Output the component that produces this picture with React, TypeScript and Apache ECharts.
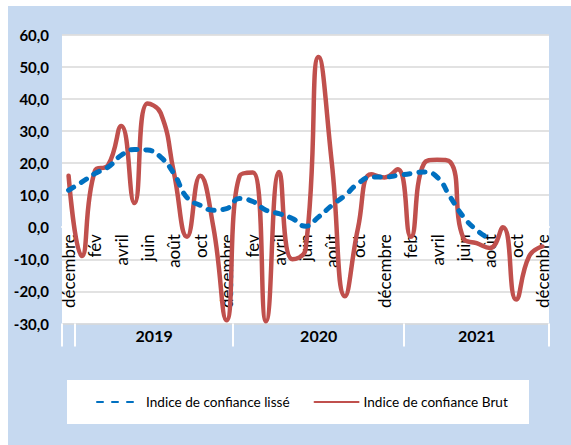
import React, { useEffect, useRef } from "react";
import * as echarts from "echarts";

const months = [
  "décembre", "janvier", "fév", "mars", "avril", "mai", "juin", "juillet", "août", "septembre", "oct", "novembre",
  "décembre", "janvier", "fev", "mars", "avril", "mai", "juin", "juillet", "août", "septembre", "oct", "novembre",
  "décembre", "janvier", "feb", "mars", "avril", "mai", "juin", "juillet", "août", "septembre", "oct", "novembre",
  "décembre",
];

const brut = [
  16, -9, 17.5, 19.3, 31.5, 7.5, 38.5, 35.5, 17, -3, 16, 0,
  -29, 16, 17, -29.3, 17.2, -10, -7, 53, 20, -21.5, 0, 16.5,
  15.5, 18, -3, 19.8, 21, 20.3, -3.5, -5, -6.5, 0, -22.5, -9,
  -6,
];

const lisse = [
  11.5, 14, 16.7, 18.7, 22.4, 24.2, 24, 21.8, 16.7, 9.2, 6.8, 5.3,
  5.8, 8.9, 8, 5.3, 4.2, 2.7, 0.3, 3.2, 6.8, 9.9, 13.6, 15.6,
  15.6, 16.1, 16.7, 17.2, 15.6, 9.4, 3.2, -0.9, -3.7, null, null, null,
  null,
];

const years = ["2019", "2020", "2021"];
const yearCenters = [6.5, 19, 31];
const yearBounds = [-0.5, 0.5, 12.5, 25.5, 36.5];

const yTicks = { min: -30, max: 60, interval: 10 };

const FONT = "Lato, 'Open Sans', sans-serif";

const GRID_TOP = 34.5;
const GRID_BOTTOM_Y = 323.5;

export default function App() {
  const ref = useRef<HTMLDivElement>(null);
  useEffect(() => {
    if (!ref.current) return;
    const chart = echarts.init(ref.current, null, { renderer: "svg" });
    const pxPerUnit = (GRID_BOTTOM_Y - GRID_TOP) / (yTicks.max - yTicks.min);
    const zeroOffset = -(0 - yTicks.min) * pxPerUnit;
    chart.setOption({
      animation: false,
      textStyle: { fontFamily: FONT },
      graphic: [
        {
          type: "rect",
          z: -10,
          shape: { x: 8, y: 6, width: 563, height: 439 },
          style: { fill: "#C6D9F0" },
        },
        {
          type: "rect",
          z: -10,
          shape: { x: 67, y: 380, width: 462, height: 44 },
          style: { fill: "#FFFFFF" },
        },
      ],
      grid: [
        {
          left: 62,
          right: 22,
          top: GRID_TOP,
          bottom: 445 - GRID_BOTTOM_Y,
          show: true,
          backgroundColor: "#FFFFFF",
          borderWidth: 0,
        },
        {
          left: 62,
          right: 22,
          top: GRID_BOTTOM_Y - 1,
          height: 1,
          show: false,
        },
      ],
      legend: {
        left: 96,
        top: 395,
        padding: 0,
        itemWidth: 44,
        itemHeight: 14,
        itemGap: 24,
        itemStyle: { opacity: 0 },
        textStyle: { fontFamily: FONT, fontSize: 13.6, color: "#000" },
        data: ["Indice de confiance lissé", "Indice de confiance Brut"],
      },
      xAxis: [
        {
          type: "category",
          gridIndex: 0,
          data: months,
          boundaryGap: true,
          position: "bottom",
          offset: zeroOffset,
          axisLine: { show: true, onZero: false, lineStyle: { color: "#FFFFFF", width: 2 } },
          axisTick: { show: false },
          axisLabel: {
            rotate: 90,
            interval: 1,
            margin: 7,
            fontSize: 17,
            color: "#000",
            fontFamily: FONT,
          },
          splitLine: { show: false },
        },
        {
          type: "value",
          gridIndex: 1,
          min: -0.5,
          max: 36.5,
          position: "bottom",
          axisLine: { show: false, onZero: false },
          axisTick: {
            show: true,
            customValues: yearBounds,
            length: 23,
            inside: false,
            lineStyle: { color: "#FFFFFF", width: 2 },
          },
          axisLabel: {
            customValues: yearCenters,
            formatter: (v: number) => {
              const k = yearCenters.indexOf(v);
              return k >= 0 ? years[k] : "";
            },
            fontSize: 16,
            fontWeight: "bold",
            color: "#000",
            margin: 4,
            fontFamily: FONT,
          },
          splitLine: { show: false },
        },
      ],
      yAxis: [
        {
          type: "value",
          gridIndex: 0,
          min: yTicks.min,
          max: yTicks.max,
          interval: yTicks.interval,
          axisLine: { show: false, onZero: false },
          axisTick: { show: false },
          axisLabel: {
            formatter: (v: number) => v.toFixed(1).replace(".", ","),
            fontSize: 15,
            fontWeight: "bold",
            color: "#000",
            margin: 13,
            fontFamily: FONT,
          },
          splitLine: { show: true, lineStyle: { color: "#D9D9D9", width: 1.5 } },
        },
        {
          type: "value",
          gridIndex: 1,
          show: false,
          min: 0,
          max: 1,
          axisLine: { onZero: false },
          splitLine: { show: false },
        },
      ],
      series: [
        {
          name: "Indice de confiance lissé",
          type: "line",
          xAxisIndex: 0,
          yAxisIndex: 0,
          data: lisse,
          smooth: 0.5,
          symbol: "none",
          connectNulls: false,
          itemStyle: { color: "#0070C0" },
          lineStyle: { color: "#0070C0", width: 5, type: [6, 9], cap: "round" },
          z: 3,
        },
        {
          name: "Indice de confiance Brut",
          type: "line",
          xAxisIndex: 0,
          yAxisIndex: 0,
          data: brut,
          smooth: 0.5,
          symbol: "none",
          itemStyle: { color: "#C0504D" },
          lineStyle: { color: "#C0504D", width: 4.5, cap: "round", join: "round" },
          z: 2,
        },
      ],
    });
    return () => chart.dispose();
  }, []);
  return (
    <div
      ref={ref}
      style={{ position: "absolute", left: 0, top: 0, width: 571, height: 445, background: "#FFFFFF" }}
    />
  );
}
